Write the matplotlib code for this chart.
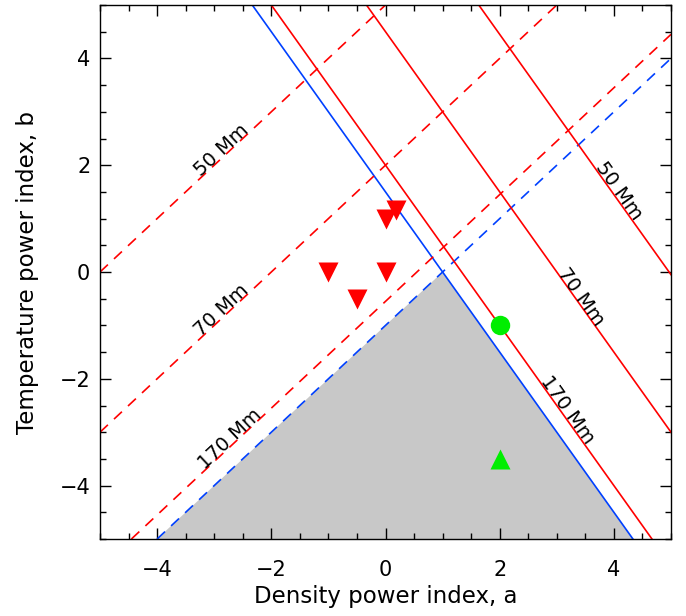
import numpy as np
import matplotlib
matplotlib.use('Agg')
import matplotlib.pyplot as plt
from matplotlib.ticker import MultipleLocator

# loop-length lines in the (a, b) plane: b = slope * a + intercept
loop_labels = ["170 Mm", "70 Mm", "50 Mm"]
solid_slope = -1.5
solid_intercepts = [2.0, 4.5, 7.45]
dashed_slope = 1.0
dashed_intercepts = [-0.55, 2.0, 5.0]
# where the labels sit along each line (a value)
solid_label_a = [3.1, 3.35, 4.0]
dashed_label_a = [-2.65, -2.8, -2.8]

# boundary lines (blue)
blue_solid_intercept = 1.5
blue_dashed_intercept = -1.0

# excluded region
shade_a = [-4.0, 1.0, 4.333]
shade_b = [-5.0, 0.0, -5.0]

# observations
down_a = [-1.0, 0.0, -0.5, 0.0, 0.18]
down_b = [0.0, 0.0, -0.5, 1.0, 1.17]
circle_a = [2.0]
circle_b = [-1.0]
up_a = [2.0]
up_b = [-3.5]

RED = '#ff0000'
BLUE = '#0040ff'
GREEN = '#00ee00'

plt.rcParams['font.family'] = ['DejaVu Sans']

fig = plt.figure(figsize=(6.86, 6.16), dpi=100)
ax = fig.add_axes([100 / 686, 1 - 539 / 616, 571 / 686, 534 / 616])
ax.set_xlim(-5, 5)
ax.set_ylim(-5, 5)

ax.fill(shade_a, shade_b, color='#c8c8c8', lw=0, zorder=1)

ax.axline((0, blue_solid_intercept), slope=solid_slope, color=BLUE, lw=1.2, zorder=2)
ax.axline((0, blue_dashed_intercept), slope=dashed_slope, color=BLUE, lw=1.2,
          dashes=(6.5, 5), zorder=2)

for c in solid_intercepts:
    ax.axline((0, c), slope=solid_slope, color=RED, lw=1.2, zorder=2)
for c in dashed_intercepts:
    ax.axline((0, c), slope=dashed_slope, color=RED, lw=1.2, dashes=(6.5, 5), zorder=2)

# text angles in screen space
p = ax.transData.transform([[0, 0], [1, solid_slope], [1, dashed_slope]])
ang_solid = np.degrees(np.arctan2(p[1, 1] - p[0, 1], p[1, 0] - p[0, 0]))
ang_dashed = np.degrees(np.arctan2(p[2, 1] - p[0, 1], p[2, 0] - p[0, 0]))

for lab, c, a in zip(loop_labels, solid_intercepts, solid_label_a):
    ax.text(a, solid_slope * a + c, lab, rotation=ang_solid, rotation_mode='anchor',
            ha='center', va='baseline', fontsize=14, zorder=3)
for lab, c, a in zip(loop_labels, dashed_intercepts, dashed_label_a):
    ax.text(a, dashed_slope * a + c, lab, rotation=ang_dashed, rotation_mode='anchor',
            ha='center', va='baseline', fontsize=14, zorder=3)

ax.plot(down_a, down_b, 'v', color=RED, ms=14, mec='none', zorder=4)
ax.plot(circle_a, circle_b, 'o', color=GREEN, ms=14, mec='none', zorder=4)
ax.plot(up_a, up_b, '^', color=GREEN, ms=14, mec='none', zorder=4)

ax.xaxis.set_major_locator(MultipleLocator(2))
ax.xaxis.set_minor_locator(MultipleLocator(0.5))
ax.yaxis.set_major_locator(MultipleLocator(2))
ax.yaxis.set_minor_locator(MultipleLocator(0.5))
ax.tick_params(which='both', direction='in', top=True, right=True, width=1)
ax.tick_params(which='major', length=8, labelsize=15)
ax.tick_params(which='minor', length=4)
ax.tick_params(axis='x', pad=15)
ax.tick_params(axis='y', pad=7)
for s in ax.spines.values():
    s.set_linewidth(1)

ax.set_xlabel("Density power index, a", fontsize=16.5, labelpad=4)
ax.set_ylabel("Temperature power index, b", fontsize=16.5, labelpad=15)

fig.savefig('out.png', dpi=100)
